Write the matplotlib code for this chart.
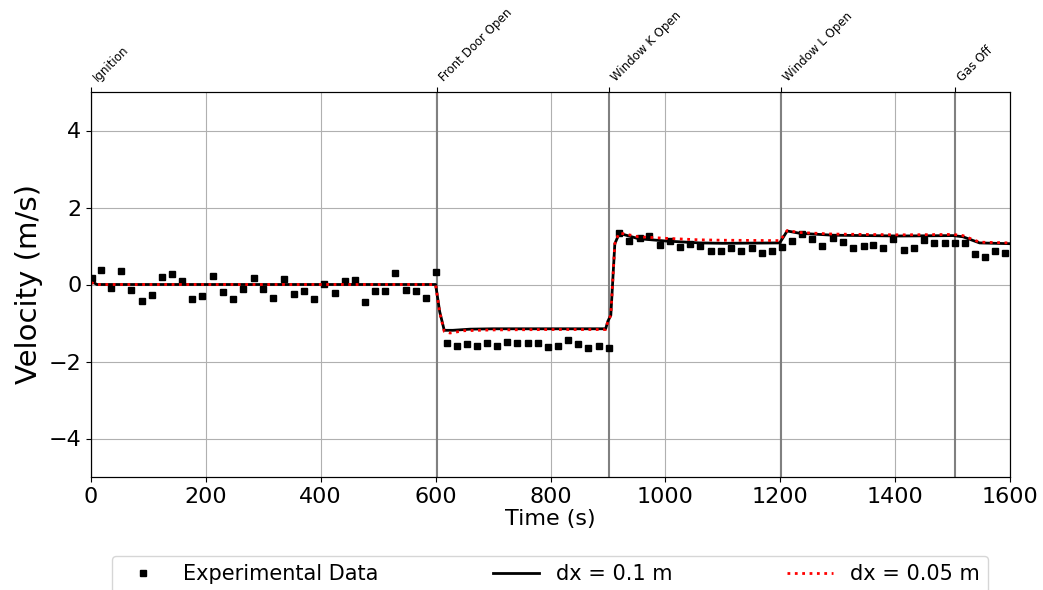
import matplotlib
matplotlib.use('Agg')
import matplotlib.pyplot as plt

exp_t = [1, 17, 35, 53, 70, 88, 106, 123, 141, 159, 176, 194, 212, 229, 247,
         265, 283, 300, 317, 336, 353, 371, 389, 406, 424, 442, 459, 477, 495,
         512, 530, 548, 566, 583, 601,
         619, 637, 654, 672, 689, 707, 725, 742, 760, 778, 795, 813, 830, 848,
         866, 884, 902,
         919, 937, 955, 972, 990, 1008, 1025, 1043, 1061,
         1079, 1096, 1114, 1132, 1150, 1168, 1185, 1203, 1220, 1238, 1256, 1273,
         1291, 1309, 1327, 1345, 1361, 1379, 1397, 1415, 1432, 1451, 1468, 1486,
         1504, 1522, 1539, 1556, 1574, 1592]
exp_v = [0.17, 0.38, -0.10, 0.35, -0.14, -0.43, -0.26, 0.19, 0.26, 0.10, -0.38,
         -0.31, 0.22, -0.19, -0.37, -0.11, 0.18, -0.11, -0.36, 0.14, -0.24, -0.16,
         -0.38, 0.02, -0.21, 0.10, 0.11, -0.46, -0.18, -0.16, 0.30, -0.14, -0.16,
         -0.36, 0.33,
         -1.52, -1.60, -1.54, -1.59, -1.52, -1.59, -1.49, -1.51, -1.53, -1.52,
         -1.63, -1.60, -1.44, -1.54, -1.64, -1.59, -1.65,
         1.33, 1.14, 1.21, 1.25, 1.03, 1.12, 0.98, 1.06, 1.00,
         0.87, 0.88, 0.94, 0.87, 0.96, 0.81, 0.88, 0.97, 1.13, 1.30, 1.17, 1.00,
         1.21, 1.10, 0.94, 0.99, 1.02, 0.96, 1.17, 0.89, 0.95, 1.16, 1.07, 1.07,
         1.07, 1.09, 0.80, 0.71, 0.87, 0.81]

# model, dx = 0.1 m
m1_t = [0, 10, 600, 607, 615, 630, 660, 700, 800, 896, 900, 905, 912, 919, 927,
        953, 1000, 1060, 1100, 1199, 1205, 1212, 1234, 1292, 1408, 1501, 1518,
        1547, 1600]
m1_v = [0.10, 0.0, 0.0, -0.70, -1.19, -1.19, -1.16, -1.15, -1.15, -1.15, -0.95,
        -0.80, 1.06, 1.30, 1.30, 1.19, 1.13, 1.08, 1.07, 1.08, 1.22, 1.39, 1.33,
        1.28, 1.26, 1.27, 1.24, 1.08, 1.06]

# model, dx = 0.05 m
m2_t = [0, 10, 600, 607, 615, 625, 650, 700, 800, 896, 900, 905, 912, 919, 927,
        953, 1000, 1060, 1100, 1199, 1205, 1212, 1234, 1292, 1408, 1501, 1518,
        1547, 1600]
m2_v = [0.05, 0.0, 0.0, -0.72, -1.22, -1.26, -1.20, -1.18, -1.17, -1.17, -0.95,
        -0.80, 1.06, 1.33, 1.32, 1.24, 1.20, 1.16, 1.15, 1.14, 1.25, 1.40, 1.35,
        1.31, 1.29, 1.30, 1.27, 1.10, 1.08]

events = [0, 602, 902, 1201, 1504]
event_labels = ['Ignition', 'Front Door Open', 'Window K Open', 'Window L Open', 'Gas Off']


def main():
    fig = plt.figure(figsize=(10.43, 5.90), dpi=100)
    ax = fig.add_axes([91 / 1043, 1 - 477 / 590, 919 / 1043, 385 / 590])

    ax.grid(True, color='#b0b0b0', linewidth=0.8)
    ax.set_axisbelow(True)
    for t in events:
        ax.axvline(t, color='#808080', linewidth=1.5, zorder=1)

    ax.plot(exp_t, exp_v, 's', color='k', markersize=5, linestyle='None',
            label='Experimental Data', zorder=3)
    ax.plot(m1_t, m1_v, '-', color='k', linewidth=2, label='dx = 0.1 m', zorder=4)
    ax.plot(m2_t, m2_v, ':', color='red', linewidth=2, label='dx = 0.05 m', zorder=5)

    ax.set_xlim(0, 1600)
    ax.set_ylim(-5, 5)
    ax.set_yticks([-4, -2, 0, 2, 4])
    ax.tick_params(labelsize=16)
    ax.set_xlabel('Time (s)', fontsize=16, labelpad=2)
    ax.set_ylabel('Velocity (m/s)', fontsize=21)

    top = ax.twiny()
    top.set_xlim(ax.get_xlim())
    top.set_xticks(events)
    top.set_xticklabels(event_labels, rotation=45, ha='left', fontsize=8.5)
    top.tick_params(axis='x', pad=2)

    leg_top = 1 - 556 / 590
    ax.legend(loc='upper left', bbox_to_anchor=(112 / 1043, leg_top - 0.1, 876 / 1043, 0.1),
              bbox_transform=fig.transFigure, ncol=3, mode='expand',
              fontsize=15, borderaxespad=0, handlelength=2.2)

    fig.savefig('out.png', dpi=100)


if __name__ == "__main__":
    main()
